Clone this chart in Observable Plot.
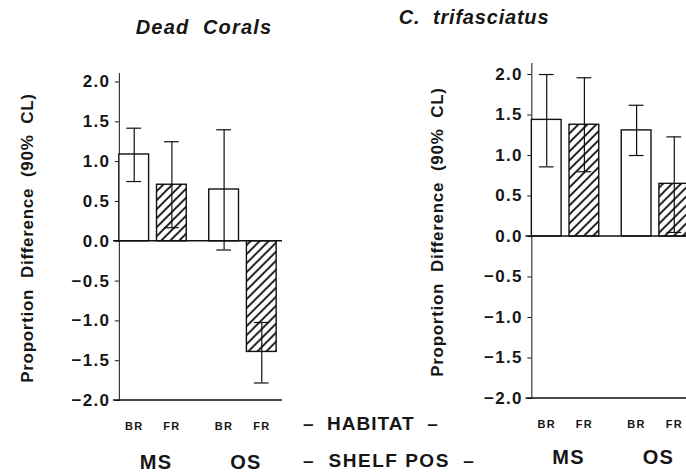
<!DOCTYPE html>
<html><head><meta charset="utf-8">
<script src="https://cdn.jsdelivr.net/npm/d3@7"></script>
<script src="https://cdn.jsdelivr.net/npm/@observablehq/plot@0.6"></script>
<style>
html,body{margin:0;padding:0;background:#fff;}
#wrap{position:relative;width:686px;height:473px;overflow:hidden;background:#fff;
  font-family:"Liberation Sans",Arial,sans-serif;font-weight:bold;color:#161616;}
.abs{position:absolute;white-space:pre;line-height:1;}
.panel{position:absolute;top:0;}
</style></head><body><div id="wrap"></div>
<script>
// Categories
const shelves = ["MS", "OS"];
const habitats = ["BR", "FR"];
const yTicks = [-2, -1.5, -1, -0.5, 0, 0.5, 1, 1.5, 2];
// Values in order MS-BR, MS-FR, OS-BR, OS-FR
const deadMean = [1.09, 0.71, 0.65, -1.39];
const deadLo   = [0.75, 0.17, -0.11, -1.78];
const deadHi   = [1.42, 1.25, 1.40, -1.02];
const trifMean = [1.44, 1.38, 1.31, 0.65];
const trifLo   = [0.86, 0.80, 1.00, 0.05];
const trifHi   = [2.00, 1.96, 1.62, 1.23];
const titles = ["Dead  Corals", "C.  trifasciatus"];
const yLabel = "Proportion  Difference  (90%  CL)";

function rowsOf(mean, lo, hi) {
  return shelves.flatMap((s, i) => habitats.map((h, j) => ({
    shelf: s, habitat: h, mean: mean[i * 2 + j], lo: lo[i * 2 + j], hi: hi[i * 2 + j]
  })));
}

const ink = "#111";
const fmt = d3.format(".1f");
function panel(rows, cfg) {
  const plot = Plot.plot({
    width: 300, height: 473,
    marginLeft: cfg.ml, marginRight: cfg.mr, marginTop: cfg.mt, marginBottom: cfg.mb,
    style: {fontFamily: '"Liberation Sans", Arial, sans-serif', fontWeight: "bold",
      fontSize: "17px", letterSpacing: "1.3px"},
    facet: {data: rows, x: "shelf"},
    fx: {domain: shelves, paddingInner: 0.25, paddingOuter: 0.065, axis: null, round: false, label: null},
    x: {domain: habitats, paddingInner: 0.21, paddingOuter: 0, axis: null, round: false},
    y: {domain: [-2, cfg.ytop], ticks: yTicks, tickFormat: fmt, tickSize: 4, tickPadding: 5,
      line: true, label: null},
    marks: [
      Plot.barY(rows, {filter: d => d.habitat === "BR", x: "habitat", y: "mean", fill: "white", stroke: ink, strokeWidth: 1.4}),
      Plot.barY(rows, {filter: d => d.habitat === "FR", x: "habitat", y: "mean", fill: `url(#${cfg.id})`, stroke: ink, strokeWidth: 1.4}),
      Plot.ruleX(rows, {x: "habitat", y1: "lo", y2: "hi", stroke: ink, strokeWidth: 1.2}),
      Plot.tickY(rows, {x: "habitat", y: "lo", insetLeft: 7.5, insetRight: 7.5, stroke: ink, strokeWidth: 1.2}),
      Plot.tickY(rows, {x: "habitat", y: "hi", insetLeft: 7.5, insetRight: 7.5, stroke: ink, strokeWidth: 1.2}),
      Plot.text(rows, {x: "habitat", text: "habitat", frameAnchor: "bottom", dy: cfg.habDy, fontSize: 11}),
      Plot.text(rows, Plot.selectFirst({text: "shelf", frameAnchor: "bottom", dy: cfg.shelfDy, fontSize: 20, dx: 3}))
    ]
  });
  const svg = d3.select(plot);
  const defs = svg.insert("defs", ":first-child");
  const pat = defs.append("pattern").attr("id", cfg.id).attr("patternUnits", "userSpaceOnUse")
    .attr("width", 9).attr("height", 9);
  pat.append("rect").attr("width", 9).attr("height", 9).attr("fill", "white");
  pat.append("path").attr("d", "M-2.25,2.25 L2.25,-2.25 M0,9 L9,0 M6.75,11.25 L11.25,6.75")
    .attr("stroke", ink).attr("stroke-width", 1.9);
  // horizontal reference lines at 0 and at the bottom of the axis, via the plot's y scale
  const y = plot.scale("y");
  for (const v of [0, -2]) {
    svg.append("line")
      .attr("x1", cfg.ml).attr("x2", 300 - cfg.mr)
      .attr("y1", y.apply(v)).attr("y2", y.apply(v))
      .attr("stroke", ink).attr("stroke-width", 1.4);
  }
  return plot;
}

const wrap = document.getElementById("wrap");
const left = panel(rowsOf(deadMean, deadLo, deadHi), {id: "hatchL", ml: 113, mr: 18, mt: 73, mb: 73, ytop: 2.107, habDy: 29, shelfDy: 68});
left.classList.add("panel"); left.style.left = "0px";
wrap.appendChild(left);
const right = panel(rowsOf(trifMean, trifLo, trifHi), {id: "hatchR", ml: 125.5, mr: 5.5, mt: 63, mb: 75, ytop: 2.136, habDy: 29, shelfDy: 65});
right.classList.add("panel"); right.style.left = "400px";
wrap.appendChild(right);

function addText(txt, x, y, opts = {}) {
  const d = document.createElement("div");
  d.className = "abs";
  d.textContent = txt;
  d.style.left = x + "px";
  d.style.top = y + "px";
  d.style.fontSize = (opts.size || 19) + "px";
  d.style.lineHeight = (opts.size || 19) + "px";
  if (opts.italic) d.style.fontStyle = "italic";
  if (opts.ls != null) d.style.letterSpacing = opts.ls + "px";
  d.style.transform = opts.transform || "translate(-50%,-50%)";
  wrap.appendChild(d);
  return d;
}
// titles
addText(titles[0], 204, 27, {italic: true, size: 20, ls: 1.2});
addText(titles[1], 474, 17, {italic: true, size: 20, ls: 0.8});
// y-axis labels
addText(yLabel, 27, 238, {size: 17, ls: 0.7, transform: "translate(-50%,-50%) rotate(-90deg)"});
addText(yLabel, 437, 232, {size: 17, ls: 0.7, transform: "translate(-50%,-50%) rotate(-90deg)"});
// row labels
addText("–  HABITAT  –", 303, 423, {size: 19, ls: 1, transform: "translate(0,-50%)"});
addText("–  SHELF POS  –", 303, 460, {size: 19, ls: 1.5, transform: "translate(0,-50%)"});
</script></body></html>
